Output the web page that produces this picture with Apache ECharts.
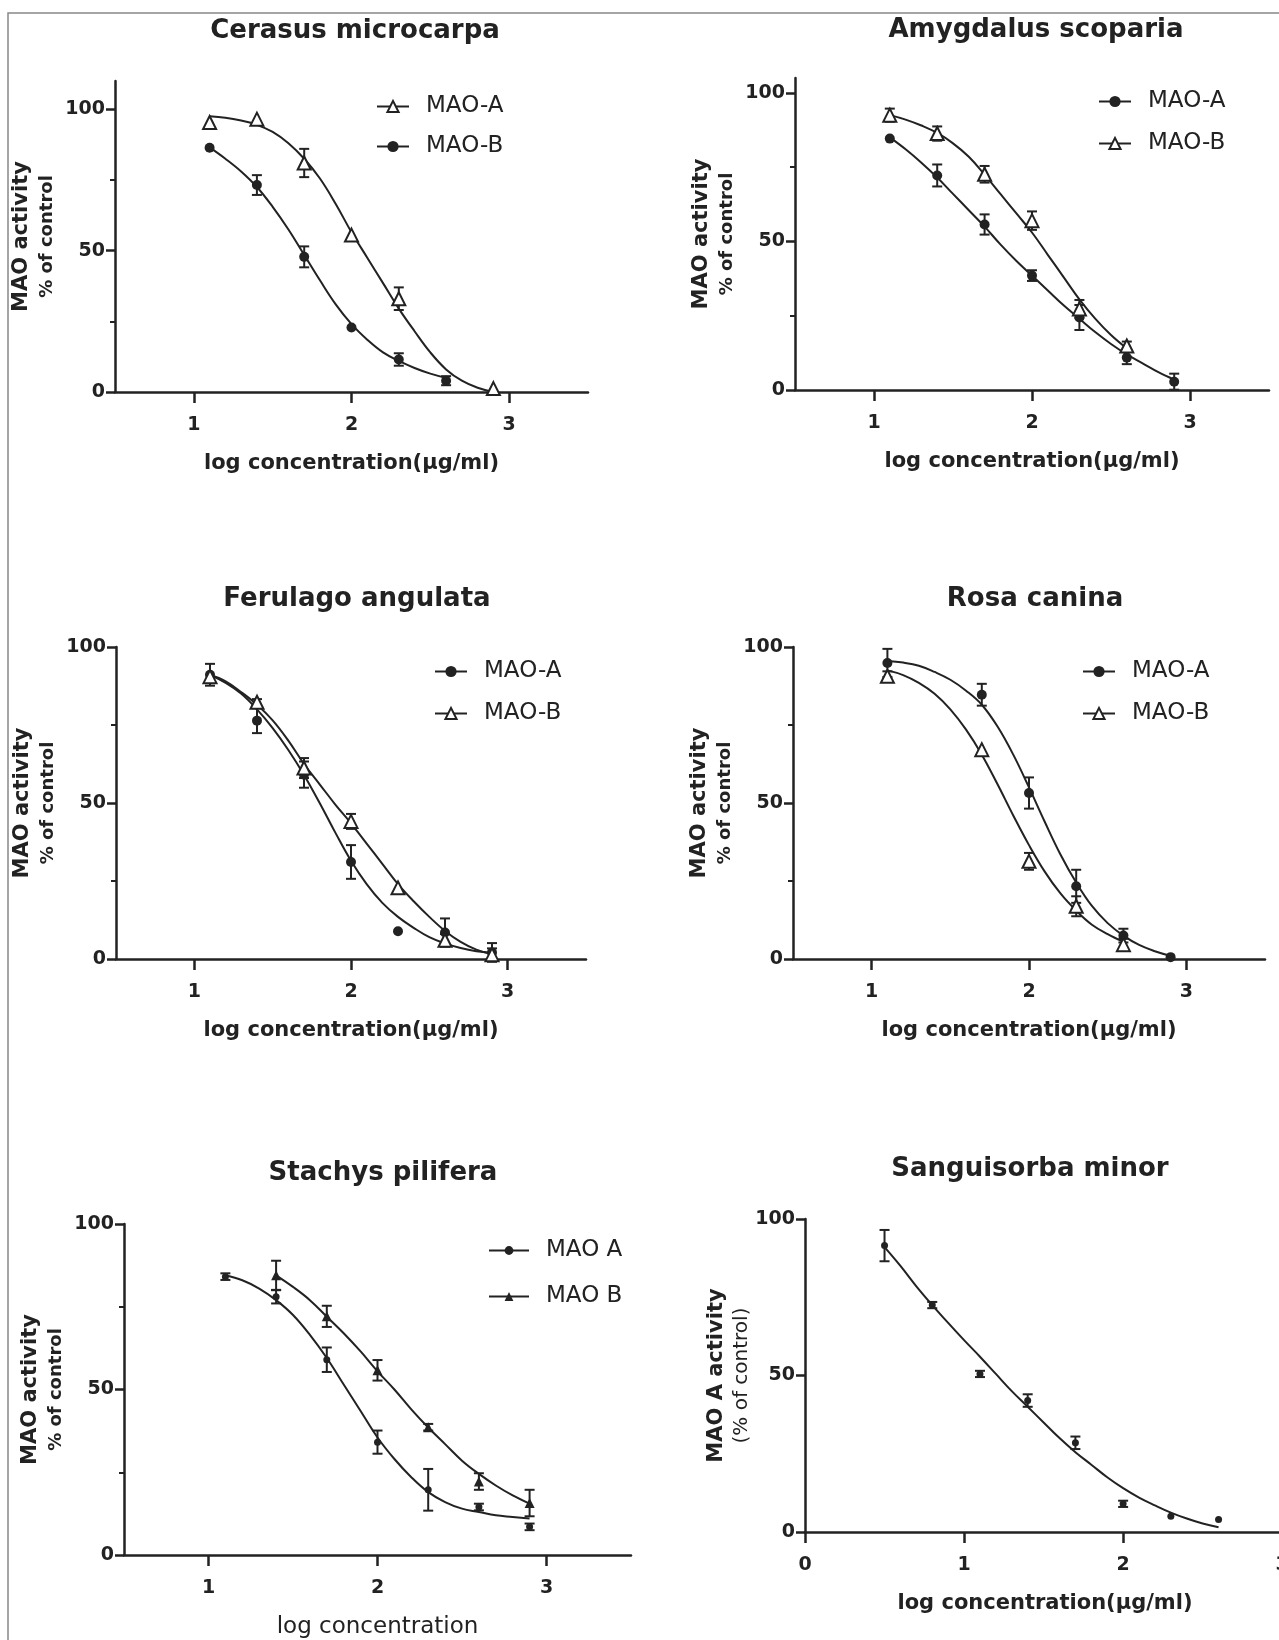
<!DOCTYPE html>
<html>
<head>
<meta charset="utf-8">
<script src="https://cdn.jsdelivr.net/npm/echarts@6/dist/echarts.min.js"></script>
<style>
  html, body { margin: 0; background: #fff; overflow: hidden; }
  /* wider than the window: the last panel's x axis runs off the right edge, as in the figure */
  #main { width: 1330px; height: 1640px; }
</style>
</head>
<body>
<div id="main"></div>
<script>
// x of the fitted curves (log concentration), read every 0.1
const fitX = [1.1, 1.2, 1.3, 1.4, 1.5, 1.6, 1.7, 1.8, 1.9, 2.0, 2.1, 2.2, 2.3, 2.4, 2.5, 2.6, 2.7, 2.8, 2.9];
const fitX6 = [0.5, 0.6, 0.7, 0.8, 0.9, 1.0, 1.1, 1.2, 1.3, 1.4, 1.5, 1.6, 1.7, 1.8, 1.9, 2.0, 2.1, 2.2, 2.3, 2.4, 2.5, 2.6];
const logX = [1.1, 1.4, 1.7, 2.0, 2.3, 2.6, 2.9];

// Cerasus microcarpa
const cerXA = [1.1, 1.4, 1.7, 2.0, 2.3, 2.9];
const cerA = [95.3, 96.5, 81, 55.5, 33, 1.2];
const cerAErr = [0, 0, 5, 0, 4, 0];
const cerXB = [1.1, 1.4, 1.7, 2.0, 2.3, 2.6];
const cerB = [86.4, 73.2, 47.8, 22.8, 11.5, 4];
const cerBErr = [0, 3.5, 3.7, 0, 2.2, 1.6];
const cerFitA = [97.5, 97, 96, 94.5, 92, 88, 82.5, 75.5, 66.5, 56.5, 47.5, 38.5, 29.5, 21.5, 14, 8, 4, 1.5, 0];
const cerFitB = [86.5, 82.5, 78, 72.5, 65.5, 57.5, 48.5, 39.5, 31, 24, 18.5, 14, 11, 8.5, 6.5, 5];

// Amygdalus scoparia
const amyA = [84.6, 72.2, 55.7, 38.5, 24.4, 10.9, 2.8];
const amyAErr = [0, 3.7, 3.4, 1.8, 4.2, 2.2, 2.7];
const amyB = [92.5, 86.3, 72.6, 57, 27.3, 14.8];
const amyBErr = [2.2, 2.4, 2.8, 3.1, 3, 1.5];
const amyFitA = [85, 81, 76.5, 71.5, 66, 60.5, 55, 49, 43.5, 38.5, 33.5, 28.5, 24, 19.5, 15.5, 12, 9, 6, 3.5];
const amyFitB = [92.5, 91, 89, 86.5, 83, 78.5, 72.5, 66, 59.5, 53, 45.5, 38, 30.5, 24, 18.5, 14];

// Ferulago angulata
const ferA = [91.1, 76.4, 59.1, 31.1, 8.9, 8.5, 2.1];
const ferAErr = [3.5, 4, 4.2, 5.4, 0, 4.5, 3];
const ferB = [90.5, 82.3, 61.2, 44.1, 22.8, 6, 1.4];
const ferBErr = [0, 1, 3.2, 2.4, 0, 2, 2];
const ferFitA = [91, 88.5, 85, 80, 74, 67, 59, 50, 40.5, 31.5, 24, 18, 13.5, 10, 7, 5, 3.5, 2.5, 2];
const ferFitB = [91, 89, 85.5, 81.5, 76.5, 70, 62.5, 56, 49.5, 43.5, 37, 30.5, 24, 18.5, 13.5, 9, 5.5, 3, 1.5];

// Rosa canina
const rosXA = [1.1, 1.7, 2.0, 2.3, 2.6, 2.9];
const rosA = [94.9, 84.7, 53.2, 23.3, 7.5, 0.6];
const rosAErr = [4.5, 3.5, 5, 5.3, 2.2, 0];
const rosXB = [1.1, 1.7, 2.0, 2.3, 2.6];
const rosB = [90.6, 67.1, 31.3, 16.9, 4.6];
const rosBErr = [1.6, 0, 2.7, 3.2, 1.9];
const rosFitA = [95.5, 95, 94, 92, 89.5, 86, 81.5, 74.5, 65.5, 55, 44, 33.5, 24.5, 17, 11.5, 7.5, 4.5, 2.5, 1];
const rosFitB = [92.5, 91, 88.5, 85, 80, 73.5, 65.5, 56, 46, 36.5, 28, 21, 15.5, 11, 8, 5.5];

// Stachys pilifera
const staXB = [1.4, 1.7, 2.0, 2.3, 2.6, 2.9];
const staA = [84.1, 78, 59, 34.1, 19.7, 14.5, 8.5];
const staAErr = [1, 2, 3.7, 3.5, 6.3, 1, 1];
const staB = [84.5, 72.1, 55.8, 38.6, 22.2, 15.7];
const staBErr = [4.4, 3.2, 3.1, 1, 2.5, 4];
const staFitA = [84.5, 83, 80.5, 77, 72.5, 66.5, 59.5, 51.5, 43.5, 35.5, 29, 23.5, 19, 16, 14, 13, 12, 11.5, 11];
const staFitB = [84.5, 81, 77, 72, 67, 61.5, 55.5, 50, 44, 38.5, 33.5, 28.5, 24.5, 21, 18, 15.5];

// Sanguisorba minor (MAO A only)
const sanX = [0.5, 0.8, 1.1, 1.4, 1.7, 2.0, 2.3, 2.6];
const sanA = [91.5, 72.5, 50.5, 42, 28.5, 9, 5, 4];
const sanAErr = [5, 1, 1, 2, 2, 1, 0, 0];
const sanFit = [91, 85, 78.5, 72.5, 66.8, 61.3, 56, 50.5, 45, 40, 35, 30, 25.5, 21.5, 17.5, 14, 11, 8.5, 6.2, 4.3, 2.7, 1.5];

const FONT = 'DejaVu Sans';
const INK = '#222';

const pairs = (xs, ys) => ys.map((y, i) => [xs[i], y]);
const triples = (xs, ys, es) => ys.map((y, i) => [xs[i], y, es[i]]);

// one entry per panel: layout and axis setup
const panels = [
    { key: 'cer', title: 'Cerasus microcarpa', cx: 350, ty: 13, grid: { left: 115, top: 81, width: 473, height: 311 },
      xMin: 0.5, xMax: 3.5, xTicks: [1, 2, 3], yMax: 110, xName: 'log concentration(μg/ml)', yName: ['MAO activity', '% of control'] },
    { key: 'amy', title: 'Amygdalus scoparia', cx: 1031, ty: 12, grid: { left: 795, top: 78, width: 474, height: 312 },
      xMin: 0.5, xMax: 3.5, xTicks: [1, 2, 3], yMax: 105, xName: 'log concentration(μg/ml)', yName: ['MAO activity', '% of control'] },
    { key: 'fer', title: 'Ferulago angulata', cx: 352, ty: 581, grid: { left: 116, top: 647, width: 470, height: 312 },
      xMin: 0.5, xMax: 3.5, xTicks: [1, 2, 3], yMax: 100, xName: 'log concentration(μg/ml)', yName: ['MAO activity', '% of control'] },
    { key: 'ros', title: 'Rosa canina', cx: 1030, ty: 581, grid: { left: 793, top: 647, width: 472, height: 312 },
      xMin: 0.5, xMax: 3.5, xTicks: [1, 2, 3], yMax: 100, xName: 'log concentration(μg/ml)', yName: ['MAO activity', '% of control'] },
    { key: 'sta', title: 'Stachys pilifera', cx: 378, ty: 1155, grid: { left: 124, top: 1224, width: 507, height: 335 },
      xMin: 0.5, xMax: 3.5, xTicks: [1, 2, 3], yMax: 100, xName: 'log concentration', xBold: false, yName: ['MAO activity', '% of control'] },
    { key: 'san', title: 'Sanguisorba minor', cx: 1025, ty: 1151, grid: { left: 805, top: 1219, width: 509, height: 313 },
      xMin: 0, xMax: 3.2, xTicks: [0, 1, 2, 3], yMax: 100, xName: 'log concentration(μg/ml)', xNameShift: 29,
      yName: ['MAO A activity', '(% of control)'], noMinor: true, yNameGap: 50 }
];

const openTri = { symbol: 'triangle', size: 13, style: { color: '#fff', borderColor: INK, borderWidth: 2, opacity: 1 }, legend: 'emptyTriangle' };
const dot = { symbol: 'circle', size: 10, style: { color: INK, opacity: 1 }, legend: 'circle' };
const smallDot = { symbol: 'circle', size: 7, style: { color: INK, opacity: 1 }, legend: 'circle' };
const fullTri = { symbol: 'triangle', size: 10, style: { color: INK, opacity: 1 }, legend: 'triangle' };

// series per panel: name, points, error bars, fitted curve, marker
const groups = [
    [
        { name: 'MAO-A', pts: pairs(cerXA, cerA), err: triples(cerXA, cerA, cerAErr), fit: pairs(fitX, cerFitA), mk: openTri },
        { name: 'MAO-B', pts: pairs(cerXB, cerB), err: triples(cerXB, cerB, cerBErr), fit: pairs(fitX, cerFitB), mk: dot }
    ],
    [
        { name: 'MAO-A', pts: pairs(logX, amyA), err: triples(logX, amyA, amyAErr), fit: pairs(fitX, amyFitA), mk: dot },
        { name: 'MAO-B', pts: pairs(logX, amyB), err: triples(logX, amyB, amyBErr), fit: pairs(fitX, amyFitB), mk: openTri }
    ],
    [
        { name: 'MAO-A', pts: pairs(logX, ferA), err: triples(logX, ferA, ferAErr), fit: pairs(fitX, ferFitA), mk: dot },
        { name: 'MAO-B', pts: pairs(logX, ferB), err: triples(logX, ferB, ferBErr), fit: pairs(fitX, ferFitB), mk: openTri }
    ],
    [
        { name: 'MAO-A', pts: pairs(rosXA, rosA), err: triples(rosXA, rosA, rosAErr), fit: pairs(fitX, rosFitA), mk: dot },
        { name: 'MAO-B', pts: pairs(rosXB, rosB), err: triples(rosXB, rosB, rosBErr), fit: pairs(fitX, rosFitB), mk: openTri }
    ],
    [
        { name: 'MAO A', pts: pairs(logX, staA), err: triples(logX, staA, staAErr), fit: pairs(fitX, staFitA), mk: smallDot },
        { name: 'MAO B', pts: pairs(staXB, staB), err: triples(staXB, staB, staBErr), fit: pairs(fitX.slice(3), staFitB), mk: fullTri }
    ],
    [
        { name: 'MAO A', pts: pairs(sanX, sanA), err: triples(sanX, sanA, sanAErr), fit: pairs(fitX6, sanFit), mk: smallDot }
    ]
];

const legendPos = [
    { left: 371, top: 90, gap: 17 },
    { left: 1093, top: 85, gap: 19 },
    { left: 429, top: 655, gap: 19 },
    { left: 1077, top: 655, gap: 19 },
    { left: 483, top: 1234, gap: 23, itemWidth: 40, itemHeight: 11 }
];

function errorBar(params, api) {
    const x = api.value(0), y = api.value(1), e = api.value(2);
    if (!e) return null;
    const top = api.coord([x, y + e]);
    const bot = api.coord([x, y - e]);
    const cap = 5;
    const st = { stroke: INK, lineWidth: 2 };
    return {
        type: 'group',
        children: [
            { type: 'line', shape: { x1: top[0], y1: top[1], x2: bot[0], y2: bot[1] }, style: st },
            { type: 'line', shape: { x1: top[0] - cap, y1: top[1], x2: top[0] + cap, y2: top[1] }, style: st },
            { type: 'line', shape: { x1: bot[0] - cap, y1: bot[1], x2: bot[0] + cap, y2: bot[1] }, style: st }
        ]
    };
}

const lineSt = { color: INK, width: 2.5 };
const title = [], grid = [], xAxis = [], yAxis = [], series = [], legend = [];

panels.forEach((p, i) => {
    title.push({
        text: p.title, left: p.cx, top: p.ty, textAlign: 'center',
        textStyle: { fontFamily: FONT, fontSize: 26, fontWeight: 'bold', color: INK }
    });
    grid.push(p.grid);
    xAxis.push({
        type: 'value', gridIndex: i, min: p.xMin, max: p.xMax,
        axisLine: { lineStyle: lineSt },
        axisTick: { customValues: p.xTicks, length: 11, lineStyle: lineSt },
        axisLabel: { customValues: p.xTicks, margin: 24, color: INK, fontFamily: FONT, fontSize: 19, fontWeight: 'bold' },
        splitLine: { show: false },
        name: p.xName, nameLocation: 'middle', nameGap: 61,
        nameTextStyle: {
            fontFamily: FONT, fontSize: p.xBold === false ? 23 : 21, fontWeight: p.xBold === false ? 'normal' : 'bold', color: INK,
            padding: [0, p.xNameShift || 0, 0, 0]
        }
    });
    yAxis.push({
        type: 'value', gridIndex: i, position: 'left', min: 0, max: p.yMax,
        axisLine: { lineStyle: lineSt },
        axisTick: { customValues: [0, 50, 100], length: 9, lineStyle: lineSt },
        axisLabel: { customValues: [0, 50, 100], margin: 10, color: INK, fontFamily: FONT, fontSize: 19, fontWeight: 'bold' },
        splitLine: { show: false },
        name: '{a|' + p.yName[0] + '}\n{b|' + p.yName[1] + '}',
        nameLocation: 'middle', nameRotate: 90, nameGap: p.yNameGap || 56,
        nameTextStyle: {
            rich: {
                a: { fontFamily: FONT, fontSize: 21, fontWeight: 'bold', color: INK, lineHeight: 26 },
                b: { fontFamily: FONT, fontSize: i === 5 ? 20 : 18, fontWeight: i === 5 ? 'normal' : 'bold', color: INK, lineHeight: 24 }
            }
        }
    });

    groups[i].forEach((g) => {
        const id = p.key + '|' + g.name;
        series.push({
            type: 'line', name: id, xAxisIndex: i, yAxisIndex: i,
            data: g.fit, smooth: 0.4, showSymbol: false, symbol: g.mk.legend,
            color: INK, lineStyle: { color: INK, width: 2 }, z: 2, silent: true
        });
        series.push({
            type: 'custom', xAxisIndex: i, yAxisIndex: i, renderItem: errorBar,
            encode: { x: 0, y: 1 }, data: g.err, z: 3, silent: true
        });
        series.push({
            type: 'scatter', xAxisIndex: i, yAxisIndex: i, data: g.pts,
            symbol: g.mk.symbol, symbolSize: g.mk.size, itemStyle: g.mk.style, z: 4, silent: true
        });
    });

    if (legendPos[i]) {
        const lp = legendPos[i];
        legend.push({
            orient: 'vertical', left: lp.left, top: lp.top,
            itemWidth: lp.itemWidth || 32, itemHeight: lp.itemHeight || 14, itemGap: lp.gap,
            selectedMode: false,
            data: groups[i].map((g) => p.key + '|' + g.name),
            formatter: (n) => n.split('|')[1],
            textStyle: { fontFamily: FONT, fontSize: 23, color: INK, padding: [0, 0, 0, 12] }
        });
    }
});

// short minor ticks at 25 and 75 on the left axes
panels.forEach((p, i) => {
    if (p.noMinor) return;
    yAxis.push({
        type: 'value', gridIndex: i, position: 'left', min: 0, max: p.yMax,
        axisLine: { show: false },
        axisTick: { customValues: [25, 75], length: 5, lineStyle: { color: INK, width: 2 } },
        axisLabel: { show: false },
        splitLine: { show: false }
    });
});

const chart = echarts.init(document.getElementById('main'));
chart.setOption({
    animation: false,
    backgroundColor: '#fff',
    title: title,
    grid: grid,
    xAxis: xAxis,
    yAxis: yAxis,
    legend: legend,
    series: series,
    graphic: [{
        type: 'rect', shape: { x: 8, y: 13, width: 1400, height: 1700 },
        style: { fill: 'none', stroke: '#888', lineWidth: 1.5 }, silent: true, z: -10
    }]
});
</script>
</body>
</html>
